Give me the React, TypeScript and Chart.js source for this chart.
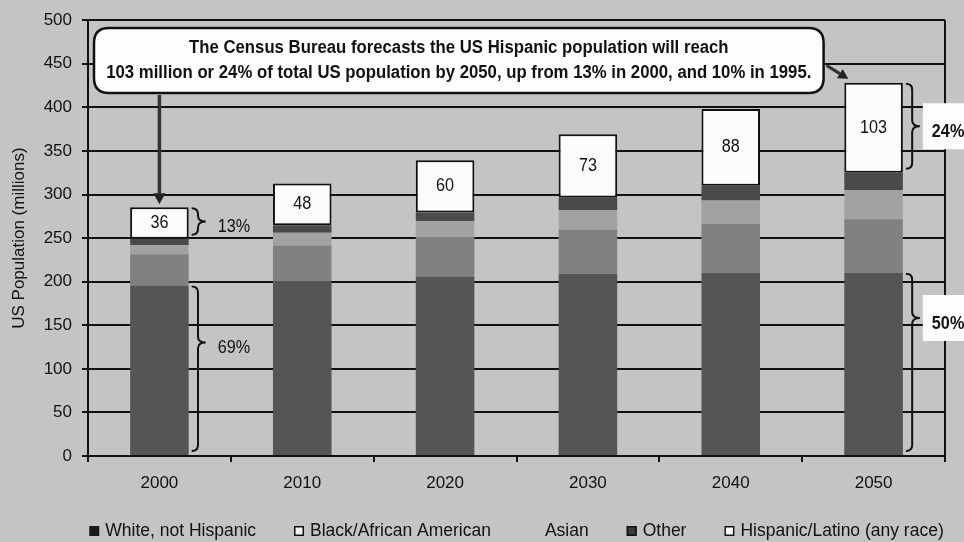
import { useEffect, useRef } from 'react';
import { Chart, registerables } from 'chart.js';

Chart.register(...registerables);

// US population by group, millions
const years = ['2000', '2010', '2020', '2030', '2040', '2050'];
const whiteNotHispanic = [195.7, 201.1, 205.9, 209.2, 210.3, 210.3];
const blackAfricanAmerican = [35.8, 40.5, 45.4, 50.4, 55.9, 61.4];
const asian = [10.7, 14.4, 18.0, 22.6, 27.0, 33.4];
const otherRaces = [7.1, 8.6, 10.0, 14.0, 17.0, 20.0];
const hispanicLatino = [36, 48, 60, 73, 88, 103];

const seriesNames = [
  'White, not Hispanic',
  'Black/African American',
  'Asian',
  'Other',
  'Hispanic/Latino (any race)',
];

const calloutLines = [
  'The Census Bureau forecasts the US Hispanic population will reach',
  '103 million or 24% of total US population by 2050, up from 13% in 2000, and 10% in 1995.',
];

// share notes: bar index, dataset index, text
const shareNotes = [
  { bar: 0, dataset: 4, text: '13%' },
  { bar: 0, dataset: 0, text: '69%' },
  { bar: 5, dataset: 4, text: '24%' },
  { bar: 5, dataset: 0, text: '50%' },
];

const FONT = "'Liberation Sans', Arial, sans-serif";
const INK = '#111111';
const PAGE = '#c4c4c4';

function fillSqueezed(ctx: CanvasRenderingContext2D, text: string, x: number, y: number, sx: number) {
  ctx.save();
  ctx.translate(x, y);
  ctx.scale(sx, 1);
  ctx.fillText(text, 0, 0);
  ctx.restore();
}

function drawBrace(ctx: CanvasRenderingContext2D, x: number, top: number, bottom: number, tipY: number, w: number) {
  const r = 6;
  const xm = x + w * 0.45;
  ctx.beginPath();
  ctx.moveTo(x, top);
  ctx.quadraticCurveTo(xm, top, xm, top + r);
  ctx.lineTo(xm, tipY - r);
  ctx.quadraticCurveTo(xm, tipY, x + w, tipY);
  ctx.quadraticCurveTo(xm, tipY, xm, tipY + r);
  ctx.lineTo(xm, bottom - r);
  ctx.quadraticCurveTo(xm, bottom, x, bottom);
  ctx.stroke();
}

function drawArrow(ctx: CanvasRenderingContext2D, x1: number, y1: number, x2: number, y2: number, head: number) {
  const ang = Math.atan2(y2 - y1, x2 - x1);
  const bx = x2 - Math.cos(ang) * head;
  const by = y2 - Math.sin(ang) * head;
  ctx.beginPath();
  ctx.moveTo(x1, y1);
  ctx.lineTo(bx, by);
  ctx.stroke();
  ctx.beginPath();
  ctx.moveTo(x2, y2);
  ctx.lineTo(bx + Math.cos(ang + Math.PI / 2) * head * 0.55, by + Math.sin(ang + Math.PI / 2) * head * 0.55);
  ctx.lineTo(bx + Math.cos(ang - Math.PI / 2) * head * 0.55, by + Math.sin(ang - Math.PI / 2) * head * 0.55);
  ctx.closePath();
  ctx.fill();
}

function roundRect(ctx: CanvasRenderingContext2D, x: number, y: number, w: number, h: number, r: number) {
  ctx.beginPath();
  ctx.moveTo(x + r, y);
  ctx.lineTo(x + w - r, y);
  ctx.quadraticCurveTo(x + w, y, x + w, y + r);
  ctx.lineTo(x + w, y + h - r);
  ctx.quadraticCurveTo(x + w, y + h, x + w - r, y + h);
  ctx.lineTo(x + r, y + h);
  ctx.quadraticCurveTo(x, y + h, x, y + h - r);
  ctx.lineTo(x, y + r);
  ctx.quadraticCurveTo(x, y, x + r, y);
  ctx.closePath();
}

const notesPlugin = {
  id: 'censusNotes',
  afterDraw(chart: any) {
    const { ctx, chartArea: ca, scales } = chart;
    const xs = scales.x;
    const ys = scales.y;
    ctx.save();

    // right frame of the plot
    ctx.strokeStyle = INK;
    ctx.lineWidth = 2;
    ctx.beginPath();
    ctx.moveTo(ca.right, ca.top);
    ctx.lineTo(ca.right, ca.bottom);
    ctx.stroke();

    // Hispanic counts inside the white boxes
    const hisp = chart.getDatasetMeta(4).data;
    ctx.fillStyle = INK;
    ctx.font = `18px ${FONT}`;
    ctx.textAlign = 'center';
    ctx.textBaseline = 'middle';
    hisp.forEach((el: any, i: number) => {
      fillSqueezed(ctx, String(hispanicLatino[i]), el.x, (el.y + el.base) / 2, 0.9);
    });

    // callout box
    const bx1 = ca.left + 6;
    const bx2 = xs.getPixelForValue(4.65);
    const by1 = ys.getPixelForValue(491);
    const by2 = ys.getPixelForValue(416.5);
    roundRect(ctx, bx1, by1, bx2 - bx1, by2 - by1, 15);
    ctx.fillStyle = '#fdfdfd';
    ctx.fill();
    ctx.lineWidth = 2.5;
    ctx.strokeStyle = INK;
    ctx.stroke();
    ctx.fillStyle = INK;
    ctx.font = `bold 18px ${FONT}`;
    const cx = (bx1 + bx2) / 2;
    const cy = (by1 + by2) / 2;
    fillSqueezed(ctx, calloutLines[0], cx, cy - 12, 0.93);
    fillSqueezed(ctx, calloutLines[1], cx, cy + 13, 0.93);

    // arrows from callout
    ctx.strokeStyle = '#333';
    ctx.fillStyle = '#222';
    ctx.lineWidth = 3.5;
    const first = hisp[0];
    drawArrow(ctx, first.x, by2 + 2, first.x, first.y - 3, 11);
    const last = hisp[5];
    ctx.lineWidth = 3;
    drawArrow(ctx, bx2 + 3, cy + 5, last.x - last.width / 2 + 4, last.y - 4, 10);

    // braces with share notes
    ctx.strokeStyle = INK;
    ctx.lineWidth = 2;
    shareNotes.forEach((n) => {
      const el = chart.getDatasetMeta(n.dataset).data[n.bar];
      const top = el.y + 1;
      const bottom = el.base - 4;
      const frac = n.dataset === 4 ? 0.5 : n.bar === 0 ? 0.34 : 0.25;
      const tipY = top + (bottom - top) * frac;
      const x0 = el.x + el.width / 2 + 3;
      drawBrace(ctx, x0, top, bottom, tipY, 14);
      const bold = n.bar === 5;
      if (bold) {
        ctx.fillStyle = '#fdfdfd';
        ctx.fillRect(x0 + 17, tipY - 23, chart.width - (x0 + 17), 46);
      }
      ctx.fillStyle = INK;
      ctx.font = `${bold ? 'bold ' : ''}18px ${FONT}`;
      ctx.textAlign = 'left';
      ctx.textBaseline = 'middle';
      fillSqueezed(ctx, n.text, x0 + 26, tipY + 6, 0.9);
    });

    // legend row
    const marks = [
      { fill: '#1a1a1a', stroke: null },
      { fill: '#f4f4f4', stroke: INK },
      { fill: null, stroke: null },
      { fill: '#3a3a3a', stroke: INK },
      { fill: '#fcfcfc', stroke: INK },
    ];
    ctx.font = `17.5px ${FONT}`;
    const box = 10;
    const gapText = 6;
    const gapItem = 38;
    const widths = seriesNames.map((s) => box + gapText + ctx.measureText(s).width);
    const total = widths.reduce((a, b) => a + b, 0) + gapItem * (widths.length - 1);
    let lx = (ca.left + ca.right) / 2 - total / 2;
    const ly = 536;
    ctx.textAlign = 'left';
    ctx.textBaseline = 'alphabetic';
    seriesNames.forEach((s, i) => {
      const m = marks[i];
      if (m.fill) {
        ctx.fillStyle = m.fill;
        ctx.fillRect(lx, ly - 10, box, box);
      }
      if (m.stroke) {
        ctx.strokeStyle = m.stroke;
        ctx.lineWidth = 1.5;
        ctx.strokeRect(lx + 0.75, ly - 9.25, box - 1.5, box - 1.5);
      }
      ctx.fillStyle = INK;
      ctx.fillText(s, lx + box + gapText, ly);
      lx += widths[i] + gapItem;
    });

    ctx.restore();
  },
};

export default function App() {
  const ref = useRef<HTMLCanvasElement>(null);

  useEffect(() => {
    const canvas = ref.current;
    if (!canvas) return;
    const chart = new Chart(canvas, {
      type: 'bar',
      data: {
        labels: years,
        datasets: [
          { label: seriesNames[0], data: whiteNotHispanic, backgroundColor: '#555555', borderWidth: 0 },
          { label: seriesNames[1], data: blackAfricanAmerican, backgroundColor: '#818181', borderWidth: 0 },
          { label: seriesNames[2], data: asian, backgroundColor: '#a2a2a2', borderWidth: 0 },
          { label: seriesNames[3], data: otherRaces, backgroundColor: '#4a4a4a', borderWidth: 0 },
          {
            label: seriesNames[4],
            data: hispanicLatino,
            backgroundColor: '#fcfcfc',
            borderColor: INK,
            borderWidth: 2,
            borderSkipped: false,
          },
        ],
      },
      options: {
        responsive: false,
        animation: false,
        layout: { padding: { top: 18, right: 19, bottom: 0, left: 0 } },
        datasets: { bar: { categoryPercentage: 0.5, barPercentage: 0.82 } },
        plugins: { legend: { display: false }, tooltip: { enabled: false } },
        scales: {
          x: {
            stacked: true,
            grid: { drawOnChartArea: false, drawTicks: true, tickLength: 6, color: INK, lineWidth: 2, offset: true },
            border: { color: INK, width: 2 },
            ticks: { font: { family: FONT, size: 17 }, color: INK, padding: 11 },
            afterFit: (s: any) => {
              s.height = 86;
            },
          },
          y: {
            stacked: true,
            min: 0,
            max: 500,
            ticks: { stepSize: 50, font: { family: FONT, size: 17 }, color: INK, padding: 10 },
            grid: { color: INK, lineWidth: 2, tickLength: 6 },
            border: { color: INK, width: 2 },
            title: {
              display: true,
              text: 'US Population (millions)',
              font: { family: FONT, size: 17 },
              color: INK,
              padding: { top: 9, bottom: 0 },
            },
            afterFit: (s: any) => {
              s.width = 88;
            },
          },
        },
      },
      plugins: [notesPlugin],
    });
    return () => chart.destroy();
  }, []);

  return (
    <div style={{ position: 'fixed', left: 0, top: 0, width: 964, height: 542, background: PAGE }}>
      <canvas ref={ref} width={964} height={542} style={{ display: 'block' }} />
    </div>
  );
}
